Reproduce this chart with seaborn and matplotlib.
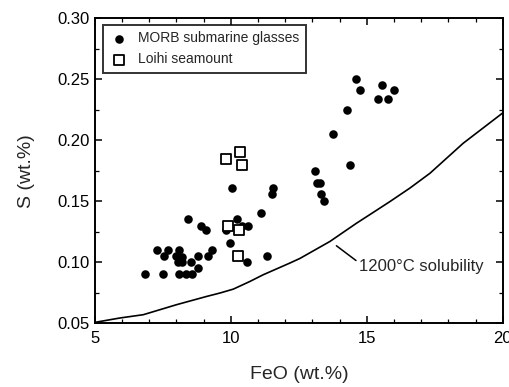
import numpy as np
import pandas as pd
import seaborn as sns
import matplotlib.pyplot as plt
from matplotlib.ticker import MultipleLocator

# MORB submarine glasses (FeO wt.%, S wt.%)
morb_feo = [6.84, 7.49, 7.29, 7.54, 7.70, 8.09, 8.00, 8.06, 8.21, 8.19, 8.09, 8.35,
            8.58, 8.53, 8.78, 8.80, 8.44, 8.89, 9.07, 9.17, 9.29, 9.81, 9.97, 10.06,
            10.21, 10.40, 10.64, 10.58, 11.11, 11.32, 11.56, 11.53, 13.10, 13.18,
            13.28, 13.32, 13.41, 13.75, 14.26, 14.39, 14.61, 14.76, 15.40, 15.55,
            15.77, 15.98]
morb_s = [0.090, 0.090, 0.110, 0.105, 0.110, 0.110, 0.105, 0.100, 0.104, 0.100, 0.090, 0.090,
          0.090, 0.100, 0.095, 0.105, 0.135, 0.130, 0.126, 0.105, 0.110, 0.126, 0.116, 0.161,
          0.135, 0.130, 0.130, 0.100, 0.140, 0.105, 0.161, 0.156, 0.175, 0.165,
          0.165, 0.156, 0.150, 0.205, 0.225, 0.180, 0.250, 0.241, 0.234, 0.245,
          0.234, 0.241]

# Loihi seamount
loihi_feo = [9.81, 10.34, 10.40, 9.88, 10.30, 10.28]
loihi_s = [0.185, 0.190, 0.180, 0.130, 0.126, 0.105]

# 1200 C sulfide solubility curve
curve_feo = [5.0, 5.92, 6.78, 8.00, 9.11, 9.60, 10.09, 10.70, 11.19, 12.17, 12.54, 13.64,
             14.62, 15.23, 15.85, 16.58, 17.32, 17.93, 18.54, 20.0]
curve_s = [0.0505, 0.0541, 0.0568, 0.0650, 0.0718, 0.0746, 0.0778, 0.0841, 0.0896, 0.0992,
           0.1030, 0.1169, 0.1319, 0.1407, 0.1497, 0.1607, 0.1729, 0.1852, 0.1975, 0.2225]

morb = pd.DataFrame({'FeO': morb_feo, 'S': morb_s})
loihi = pd.DataFrame({'FeO': loihi_feo, 'S': loihi_s})
curve = pd.DataFrame({'FeO': curve_feo, 'S': curve_s})

sns.set_style("ticks")
plt.rcParams['font.family'] = ['Liberation Sans', 'DejaVu Sans']

fig = plt.figure(figsize=(5.1, 3.87), dpi=100)
ax = fig.add_axes([0.186, 0.1654, 0.800, 0.787])

sns.lineplot(data=curve, x='FeO', y='S', ax=ax, color='black', linewidth=1.2, sort=True)
sns.scatterplot(data=morb, x='FeO', y='S', ax=ax, marker='o', s=38, color='black',
                edgecolor='black', linewidth=0, label='MORB submarine glasses', zorder=3)
sns.scatterplot(data=loihi, x='FeO', y='S', ax=ax, marker='s', s=46, facecolor='white',
                edgecolor='black', linewidth=1.3, label='Loihi seamount', zorder=4)

ax.annotate('1200°C solubility', xy=(13.88, 0.1134), xytext=(14.72, 0.0962),
            fontsize=12, va='center', ha='left',
            arrowprops=dict(arrowstyle='-', color='black', lw=1.1, shrinkA=0, shrinkB=0,
                            relpos=(0.0, 0.75)))

ax.set_xlim(5, 20)
ax.set_ylim(0.05, 0.30)
ax.xaxis.set_major_locator(MultipleLocator(5))
ax.xaxis.set_minor_locator(MultipleLocator(1))
ax.yaxis.set_major_locator(MultipleLocator(0.05))
ax.yaxis.set_minor_locator(MultipleLocator(0.025))
ax.yaxis.set_major_formatter(plt.FormatStrFormatter('%.2f'))
ax.tick_params(which='both', direction='in', top=True, right=True, colors='black')
ax.tick_params(which='major', length=5, width=1.1, labelsize=12)
ax.tick_params(axis='x', which='major', pad=6)
ax.tick_params(which='minor', length=3, width=0.9)
for sp in ax.spines.values():
    sp.set_linewidth(1.4)
    sp.set_color('black')

ax.set_xlabel('FeO (wt.%)', fontsize=14, labelpad=14)
ax.set_ylabel('S (wt.%)', fontsize=14, labelpad=16)

leg = ax.legend(loc='upper left', bbox_to_anchor=(0.0196, 0.978), fancybox=False,
                fontsize=10, frameon=True, borderpad=0.45, handletextpad=0.7,
                handlelength=1.4, labelspacing=0.5, borderaxespad=0)
leg.get_frame().set_edgecolor('black')
leg.get_frame().set_linewidth(1.4)

fig.savefig('out.png', dpi=100)
